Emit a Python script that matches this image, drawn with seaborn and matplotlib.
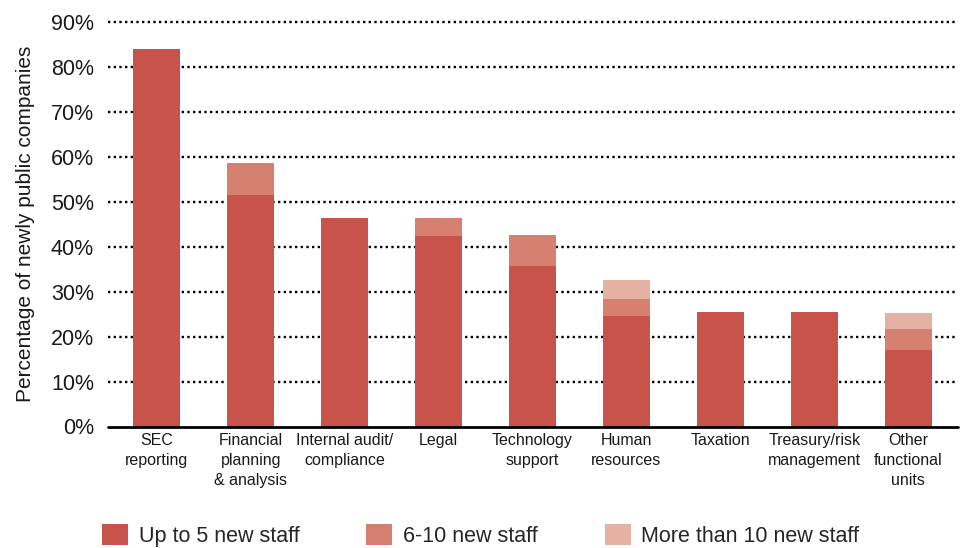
import matplotlib
matplotlib.use("Agg")
import matplotlib.pyplot as plt
import seaborn as sns
import pandas as pd
import numpy as np
from matplotlib.patches import Patch

categories = ["SEC\nreporting", "Financial\nplanning\n& analysis", "Internal audit/\ncompliance",
              "Legal", "Technology\nsupport", "Human\nresources", "Taxation",
              "Treasury/risk\nmanagement", "Other\nfunctional\nunits"]
up_to_5 = [84.0, 51.6, 46.4, 42.4, 35.8, 24.6, 25.4, 25.4, 17.0]
six_to_10 = [0.0, 7.1, 0.0, 4.0, 6.9, 3.8, 0.0, 0.0, 4.7]
more_than_10 = [0.0, 0.0, 0.0, 0.0, 0.0, 4.2, 0.0, 0.0, 3.5]
series_names = ["Up to 5 new staff", "6-10 new staff", "More than 10 new staff"]
colors = ["#C7534A", "#D68072", "#E4B1A2"]
yticks = [0, 10, 20, 30, 40, 50, 60, 70, 80, 90]

sns.set_theme(style="white")
plt.rcParams['font.family'] = ['Liberation Sans', 'DejaVu Sans']

df = pd.DataFrame({"cat": categories, "a": up_to_5, "b": six_to_10, "c": more_than_10})
df["lvl1"] = df["a"]
df["lvl2"] = df["a"] + df["b"]
df["lvl3"] = df["a"] + df["b"] + df["c"]

fig = plt.figure(figsize=(9.62, 5.48), dpi=100)
ax = fig.add_axes([108/962, (548-426.5)/548, (958-108)/962, (426.5-22)/548])

for col, c in zip(["lvl3", "lvl2", "lvl1"], colors[::-1]):
    sns.barplot(data=df, x="cat", y=col, order=categories, color=c, saturation=1,
                width=0.5, ax=ax, zorder=3, linewidth=0)

ax.set_ylim(0, 90)
ax.set_xlim(-0.52, 8.53)
ax.set_yticks(yticks)
ax.set_yticklabels([f"{v}%" for v in yticks], fontsize=15.5, color="#1a1a1a")
for v in yticks[1:]:
    ax.axhline(v, color="black", linestyle=(0, (1, 1.4)), linewidth=1.7, zorder=1,
               dash_capstyle="butt", clip_on=False)
ax.axhline(0, color="black", linewidth=2.0, zorder=4, clip_on=False)
ax.tick_params(axis="y", length=0, pad=10)
ax.tick_params(axis="x", length=0, pad=5)
ax.set_xticks(range(len(categories)))
ax.set_xticklabels(categories, fontsize=11.5, color="#1a1a1a", linespacing=1.4, va="top")
for s in ax.spines.values():
    s.set_visible(False)
ax.set_xlabel("")
ax.set_ylabel("Percentage of newly public companies", fontsize=15, color="#1a1a1a")
ax.yaxis.set_label_coords(-0.086, 0.5)

handles = [Patch(facecolor=c, edgecolor="none", label=n) for c, n in zip(colors, series_names)]
fig.legend(handles=handles, loc="lower left", bbox_to_anchor=(101/962, 0.0), ncol=3,
           frameon=False, fontsize=15.5, handlelength=1.21, handleheight=1.12,
           handletextpad=0.5, columnspacing=3.1, borderpad=0.05, borderaxespad=0)

fig.savefig("out.png", dpi=100)
